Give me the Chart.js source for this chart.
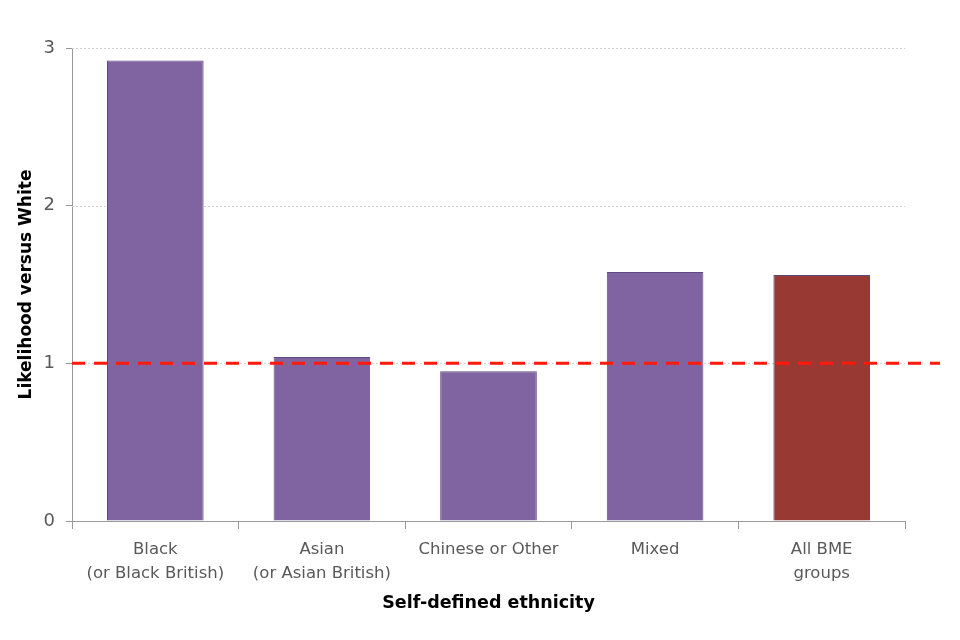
<!DOCTYPE html>
<html>
<head>
<meta charset="utf-8">
<script src="https://cdn.jsdelivr.net/npm/chart.js@4"></script>
<style>
  body { margin: 0; background: #fff; }
  #wrap { width: 960px; height: 640px; }
</style>
</head>
<body>
<div id="wrap"><canvas id="chart"></canvas></div>
<script>
// 데이터
const categories = [
  ['Black', '(or Black British)'],
  ['Asian', '(or Asian British)'],
  'Chinese or Other',
  'Mixed',
  ['All BME', 'groups'],
];
const likelihood = [2.92, 1.04, 0.95, 1.58, 1.56];
const barColors = ['#8064A2', '#8064A2', '#8064A2', '#8064A2', '#983A33'];
const yTicks = [0, 1, 2, 3];
const parityLine = 1;

const FONT = 'Tahoma, "DejaVu Sans", sans-serif';

// 점선 그리드 + 기준선
const refLines = {
  id: 'refLines',
  beforeDatasetsDraw(chart) {
    const { ctx, chartArea, scales: { y } } = chart;
    ctx.save();
    ctx.strokeStyle = '#d0d0d0';
    ctx.lineWidth = 1;
    ctx.setLineDash([2, 2]);
    yTicks.filter((v) => v > 0).forEach((v) => {
      const py = Math.round(y.getPixelForValue(v)) + 0.5;
      ctx.beginPath();
      ctx.moveTo(chartArea.left, py);
      ctx.lineTo(chartArea.right, py);
      ctx.stroke();
    });
    ctx.restore();
  },
  afterDatasetsDraw(chart) {
    const { ctx, scales: { y } } = chart;
    const py = y.getPixelForValue(parityLine);
    ctx.save();
    ctx.strokeStyle = '#FF1A0A';
    ctx.lineWidth = 3;
    ctx.setLineDash([13, 9]);
    ctx.beginPath();
    ctx.moveTo(chart.chartArea.left, py);
    ctx.lineTo(chart.width - 20, py);
    ctx.stroke();
    ctx.restore();
  },
};

new Chart(document.getElementById('chart'), {
  type: 'bar',
  data: {
    labels: categories,
    datasets: [{
      data: likelihood,
      backgroundColor: barColors,
      borderColor: '#5E4A80',
      borderWidth: 1,
      barPercentage: 0.58,
      categoryPercentage: 1,
    }],
  },
  options: {
    responsive: true,
    maintainAspectRatio: false,
    animation: false,
    layout: { padding: { left: 12, right: 55, top: 48, bottom: 22 } },
    plugins: {
      legend: { display: false },
      tooltip: { enabled: false },
    },
    scales: {
      x: {
        grid: { offset: true, drawOnChartArea: false, color: '#999', tickLength: 8 },
        border: { color: '#999' },
        ticks: { color: '#595959', font: { family: FONT, size: 16.5, lineHeight: 1.45 }, padding: 9, maxRotation: 0 },
        title: {
          display: true,
          text: 'Self-defined ethnicity',
          color: '#000',
          font: { family: FONT, size: 17.5, weight: 'bold' },
          padding: { top: 2 },
        },
        afterFit: (s) => { s.height = 97; },
      },
      y: {
        min: 0,
        max: 3,
        afterBuildTicks: (s) => { s.ticks = yTicks.map((v) => ({ value: v })); },
        grid: { drawOnChartArea: false, color: '#999', tickLength: 6 },
        border: { color: '#999' },
        ticks: { color: '#595959', font: { family: FONT, size: 18 }, padding: 11 },
        title: {
          display: true,
          text: 'Likelihood versus White',
          color: '#000',
          font: { family: FONT, size: 17, weight: 'bold' },
          padding: { bottom: 4 },
        },
        afterFit: (s) => { s.width = 60; },
      },
    },
  },
  plugins: [refLines],
});
</script>
</body>
</html>
